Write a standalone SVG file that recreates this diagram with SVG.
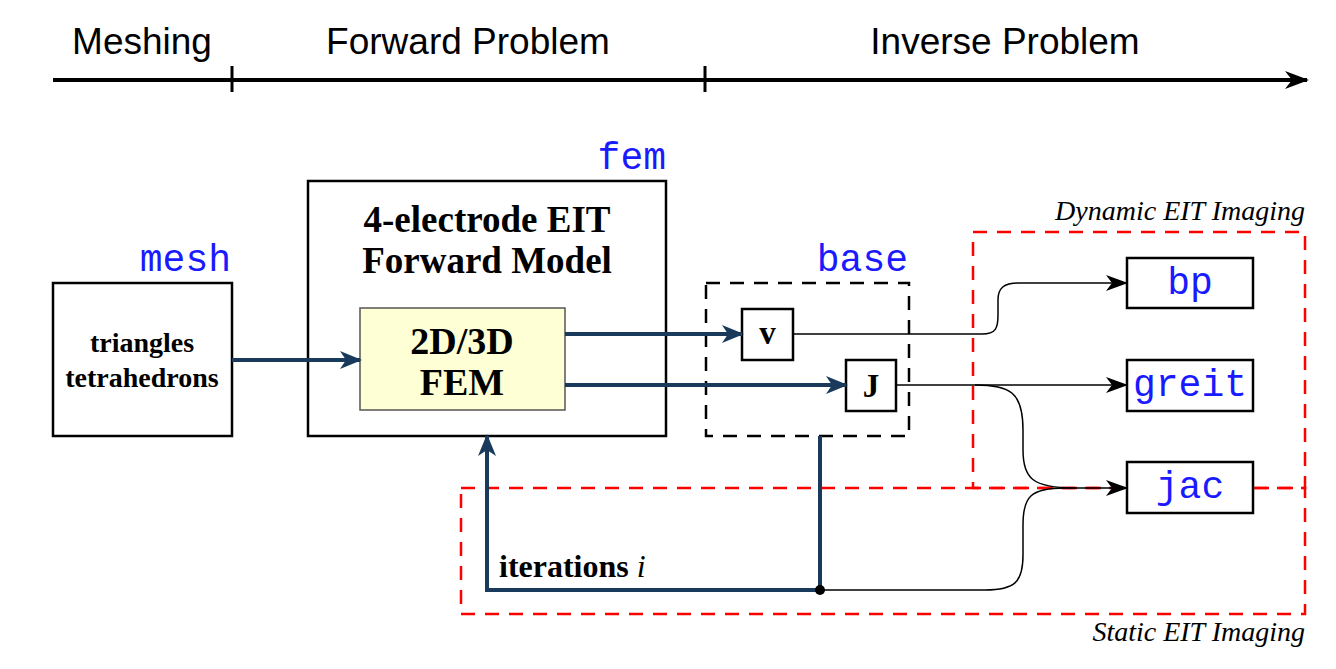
<svg xmlns="http://www.w3.org/2000/svg" width="1336" height="669" viewBox="0 0 1336 669">
<style>
.hdr{font-family:"Liberation Sans",Arial,sans-serif;font-size:37px;fill:#000}
.mono{font-family:"Liberation Mono","Courier New",monospace;font-size:38px;fill:#1a1aff}
.bs{font-family:"Liberation Serif","Times New Roman",serif;font-weight:bold;fill:#000}
.it{font-family:"Liberation Serif","Times New Roman",serif;font-style:italic;font-size:28px;fill:#000}
.box{fill:#fff;stroke:#000;stroke-width:2.5}
.thick{fill:none;stroke:#1a3a5c;stroke-width:4}
.thin{fill:none;stroke:#000;stroke-width:1.5}
.red{fill:none;stroke:#ff0000;stroke-width:2.5;stroke-dasharray:14 10}
</style>
<defs>
<marker id="ab" viewBox="0 0 22 18" refX="20" refY="9" markerWidth="22" markerHeight="18" markerUnits="userSpaceOnUse" orient="auto">
<path d="M0,0 L22,9 L0,18 L6,9 Z" fill="#1a3a5c"/>
</marker>
<marker id="ak" viewBox="0 0 22 16" refX="21" refY="8" markerWidth="22" markerHeight="16" markerUnits="userSpaceOnUse" orient="auto">
<path d="M0,0 L22,8 L0,16 L6,8 Z" fill="#000"/>
</marker>
<marker id="at" viewBox="0 0 24 18" refX="22" refY="9" markerWidth="24" markerHeight="18" markerUnits="userSpaceOnUse" orient="auto">
<path d="M0,0 L24,9 L0,18 L7,9 Z" fill="#000"/>
</marker>
</defs>

<g id="timeline">
<line x1="53" y1="80" x2="1307" y2="80" stroke="#000" stroke-width="4" marker-end="url(#at)"/>
<line x1="232" y1="66" x2="232" y2="92" stroke="#000" stroke-width="3"/>
<line x1="705" y1="66" x2="705" y2="92" stroke="#000" stroke-width="3"/>
<text class="hdr" x="142" y="54" text-anchor="middle">Meshing</text>
<text class="hdr" x="468" y="54" text-anchor="middle">Forward Problem</text>
<text class="hdr" x="1005" y="54" text-anchor="middle">Inverse Problem</text>
</g>

<g id="regions">
<rect class="red" x="973" y="232" width="332" height="256"/>
<rect class="red" x="461" y="488" width="844" height="126"/>
<text class="it" x="1305" y="220" text-anchor="end">Dynamic EIT Imaging</text>
<text class="it" x="1305" y="641" text-anchor="end">Static EIT Imaging</text>
</g>

<g id="mesh">
<rect class="box" x="53" y="283" width="179" height="153"/>
<text class="mono" x="231" y="271" text-anchor="end">mesh</text>
<text class="bs" font-size="28" x="142" y="352" text-anchor="middle">triangles</text>
<text class="bs" font-size="28" x="142" y="387" text-anchor="middle">tetrahedrons</text>
</g>

<g id="fem">
<rect class="box" x="308" y="181" width="358" height="255"/>
<text class="mono" x="666" y="169" text-anchor="end">fem</text>
<text class="bs" font-size="37" x="487" y="232" text-anchor="middle">4-electrode EIT</text>
<text class="bs" font-size="37" x="487" y="273" text-anchor="middle">Forward Model</text>
</g>

<g id="fem-core">
<rect x="360" y="308" width="205" height="102" fill="#ffffd6" stroke="#555" stroke-width="1.5"/>
<text class="bs" font-size="38" x="462" y="354" text-anchor="middle">2D/3D</text>
<text class="bs" font-size="38" x="462" y="395" text-anchor="middle">FEM</text>
</g>

<g id="base">
<rect x="706" y="283" width="203" height="153" fill="none" stroke="#000" stroke-width="2.5" stroke-dasharray="14 10"/>
<text class="mono" x="908" y="271" text-anchor="end">base</text>
</g>

<g id="v">
<rect class="box" x="742" y="309" width="51" height="51"/>
<text class="bs" font-size="33" x="767.5" y="344" text-anchor="middle">v</text>
</g>

<g id="J">
<rect class="box" x="846" y="360" width="50" height="51"/>
<text class="bs" font-size="33" x="871" y="397" text-anchor="middle">J</text>
</g>

<g id="bp">
<rect class="box" x="1127" y="258" width="126" height="50"/>
<text class="mono" x="1190" y="294" text-anchor="middle">bp</text>
</g>

<g id="greit">
<rect class="box" x="1127" y="360" width="126" height="51"/>
<text class="mono" x="1190" y="396" text-anchor="middle">greit</text>
</g>

<g id="jac">
<rect class="box" x="1127" y="462" width="126" height="51"/>
<text class="mono" x="1190" y="498" text-anchor="middle">jac</text>
</g>

<g id="connectors">
<line class="thick" x1="232" y1="360" x2="360" y2="360" marker-end="url(#ab)"/>
<line class="thick" x1="565" y1="334" x2="742" y2="334" marker-end="url(#ab)"/>
<line class="thick" x1="565" y1="385" x2="846" y2="385" marker-end="url(#ab)"/>
<polyline class="thick" points="820,436 820,590 487,590 487,436" marker-end="url(#ab)"/>
<circle cx="820" cy="590" r="5" fill="#000"/>
<text class="bs" font-size="32" x="499" y="577">iterations <tspan font-weight="normal" font-style="italic">i</tspan></text>
<path class="thin" d="M793,334 L982,334 C996,334 998,328 998,315 L998,300 C998,288 1004,283 1018,283 L1127,283" marker-end="url(#ak)"/>
<line class="thin" x1="896" y1="385" x2="1127" y2="385" marker-end="url(#ak)"/>
<path class="thin" d="M975,385 C1010,385 1023,392 1023,430 L1023,450 C1023,478 1032,488 1075,488"/>
<path class="thin" d="M820,590 L985,590 C1015,590 1023,582 1023,555 L1023,525 C1023,497 1030,488 1065,488 L1127,488" marker-end="url(#ak)"/>
</g>
</svg>
